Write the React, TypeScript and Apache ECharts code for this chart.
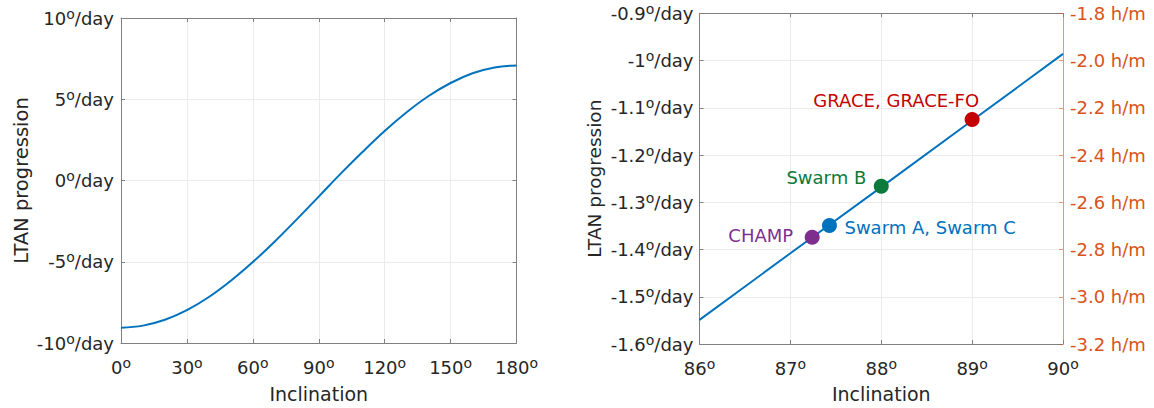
import React, { useEffect, useRef } from "react";
import * as echarts from "echarts";

// ---- Data ----
const leftInclination = [0, 10, 20, 30, 40, 50, 60, 70, 80, 90, 100, 110, 120, 130, 140, 150, 160, 170, 180];
const leftLTAN = [-9.06, -8.93, -8.57, -7.98, -7.17, -6.17, -5.02, -3.75, -2.39, -0.99, 0.42, 1.77, 3.05, 4.2, 5.2, 6.0, 6.6, 6.96, 7.08];

const rightInclination = [86, 87, 88, 89, 90];
const rightLTAN = [-1.549, -1.408, -1.268, -1.127, -0.986];

const satNames = ["GRACE, GRACE-FO", "Swarm B", "Swarm A, Swarm C", "CHAMP"];
const satInclination = [89.0, 88.0, 87.43, 87.24];
const satLTAN = [-1.125, -1.266, -1.349, -1.374];

const leftXTicks = [0, 30, 60, 90, 120, 150, 180];
const leftYTicks = [-10, -5, 0, 5, 10];
const rightXTicks = [86, 87, 88, 89, 90];
const rightYTicks = [-1.6, -1.5, -1.4, -1.3, -1.2, -1.1, -1.0, -0.9];
const rightHTicks = [-3.2, -3.0, -2.8, -2.6, -2.4, -2.2, -2.0, -1.8];

// ---- Styles ----
const FONT = "DejaVu Sans";
const TEXT = "#262626";
const AXIS = "#808080";
const GRIDC = "#ebebeb";
const BLUE = "#0072BD";
const ORANGE = "#D95319";
const satStyles = [
  { color: "#C40000", offset: [7, -19], align: "right" },
  { color: "#0B7A3A", offset: [-15, -9], align: "right" },
  { color: "#0072BD", offset: [15, 2], align: "left" },
  { color: "#7E2F8E", offset: [-19, -2], align: "right" },
];

const fmtNum = (v: number) => String(Number(v.toFixed(1)));
const degRich = {
  n: { fontSize: 18, fontFamily: FONT, color: TEXT, lineHeight: 18 },
  s: { fontSize: 14, fontFamily: FONT, color: TEXT, padding: [0, 0, 9, 0] },
};

const hiddenMirror = (gridIndex: number, extra: any) => ({
  gridIndex,
  type: "value",
  axisLine: { show: true, onZero: false, lineStyle: { color: AXIS, width: 1 } },
  axisTick: { show: true, inside: true, length: 4, lineStyle: { color: AXIS } },
  axisLabel: { show: false },
  splitLine: { show: false },
  ...extra,
});

export default function App() {
  const ref = useRef<HTMLDivElement>(null);
  useEffect(() => {
    if (!ref.current) return;
    const chart = echarts.init(ref.current, undefined, { renderer: "svg" });
    const degLabel = (suffix: string, margin: number) => ({
      margin,
      formatter: (v: number) => `{n|${fmtNum(v)}}{s|o}{n|${suffix}}`,
      rich: degRich,
    });
    const xNameStyle = { fontSize: 19, fontFamily: FONT, color: TEXT };
    const option: any = {
      animation: false,
      backgroundColor: "#ffffff",
      textStyle: { fontFamily: FONT },
      grid: [
        { left: 121, top: 18, width: 395.5, height: 327.7 },
        { left: 699.5, top: 13.3, width: 363.5, height: 331 },
      ],
      xAxis: [
        {
          gridIndex: 0,
          type: "value",
          min: leftXTicks[0],
          max: leftXTicks[leftXTicks.length - 1],
          interval: 30,
          position: "bottom",
          axisLine: { show: true, onZero: false, lineStyle: { color: AXIS } },
          axisTick: { show: true, inside: true, length: 4, lineStyle: { color: AXIS } },
          axisLabel: degLabel("", 13),
          splitLine: { show: true, lineStyle: { color: GRIDC } },
          name: "Inclination",
          nameLocation: "middle",
          nameGap: 41,
          nameTextStyle: xNameStyle,
        },
        hiddenMirror(0, { min: 0, max: 180, interval: 30, position: "top" }),
        {
          gridIndex: 1,
          type: "value",
          min: rightXTicks[0],
          max: rightXTicks[rightXTicks.length - 1],
          interval: 1,
          position: "bottom",
          axisLine: { show: true, onZero: false, lineStyle: { color: AXIS } },
          axisTick: { show: true, inside: true, length: 4, lineStyle: { color: AXIS } },
          axisLabel: degLabel("", 13),
          splitLine: { show: true, lineStyle: { color: GRIDC } },
          name: "Inclination",
          nameLocation: "middle",
          nameGap: 40,
          nameTextStyle: xNameStyle,
        },
        hiddenMirror(1, { min: 86, max: 90, interval: 1, position: "top" }),
      ],
      yAxis: [
        {
          gridIndex: 0,
          type: "value",
          min: leftYTicks[0],
          max: leftYTicks[leftYTicks.length - 1],
          interval: 5,
          position: "left",
          axisLine: { show: true, onZero: false, lineStyle: { color: AXIS } },
          axisTick: { show: true, inside: true, length: 4, lineStyle: { color: AXIS } },
          axisLabel: degLabel("/day", 7),
          splitLine: { show: true, lineStyle: { color: GRIDC } },
          name: "LTAN progression",
          nameLocation: "middle",
          nameGap: 90,
          nameTextStyle: { fontSize: 19.5, fontFamily: FONT, color: TEXT },
        },
        hiddenMirror(0, { min: -10, max: 10, interval: 5, position: "right" }),
        {
          gridIndex: 1,
          type: "value",
          min: rightYTicks[0],
          max: rightYTicks[rightYTicks.length - 1],
          interval: 0.1,
          position: "left",
          axisLine: { show: true, onZero: false, lineStyle: { color: AXIS } },
          axisTick: { show: true, inside: true, length: 4, lineStyle: { color: AXIS } },
          axisLabel: degLabel("/day", 6),
          splitLine: { show: true, lineStyle: { color: GRIDC } },
          name: "LTAN progression",
          nameLocation: "middle",
          nameGap: 96,
          nameTextStyle: { fontSize: 18.5, fontFamily: FONT, color: TEXT },
        },
        {
          gridIndex: 1,
          type: "value",
          min: rightHTicks[0],
          max: rightHTicks[rightHTicks.length - 1],
          interval: 0.2,
          position: "right",
          axisLine: { show: true, onZero: false, lineStyle: { color: ORANGE, opacity: 0.55 } },
          axisTick: { show: true, inside: true, length: 4, lineStyle: { color: ORANGE, opacity: 0.55 } },
          axisLabel: {
            margin: 7,
            color: ORANGE,
            fontSize: 18,
            lineHeight: 16,
            fontFamily: FONT,
            formatter: (v: number) => `${v.toFixed(1)} h/m`,
          },
          splitLine: { show: false },
        },
      ],
      series: [
        {
          type: "line",
          xAxisIndex: 0,
          yAxisIndex: 0,
          data: leftInclination.map((x, i) => [x, leftLTAN[i]]),
          smooth: 0.4,
          showSymbol: false,
          lineStyle: { color: BLUE, width: 2 },
          itemStyle: { color: BLUE },
        },
        {
          type: "line",
          xAxisIndex: 2,
          yAxisIndex: 2,
          data: rightInclination.map((x, i) => [x, rightLTAN[i]]),
          showSymbol: false,
          lineStyle: { color: BLUE, width: 2 },
          itemStyle: { color: BLUE },
        },
        {
          type: "scatter",
          xAxisIndex: 2,
          yAxisIndex: 2,
          symbolSize: 15,
          z: 5,
          data: satNames.map((name, i) => ({
            name,
            value: [satInclination[i], satLTAN[i]],
            itemStyle: { color: satStyles[i].color, opacity: 1 },
            label: {
              show: true,
              position: "inside",
              offset: satStyles[i].offset,
              align: satStyles[i].align,
              formatter: name,
              color: satStyles[i].color,
              fontSize: 18,
              fontFamily: FONT,
            },
          })),
        },
      ],
    };
    chart.setOption(option);
    return () => chart.dispose();
  }, []);
  return (
    <div
      ref={ref}
      style={{ position: "fixed", left: 0, top: 0, width: 1154, height: 408, background: "#fff" }}
    />
  );
}
